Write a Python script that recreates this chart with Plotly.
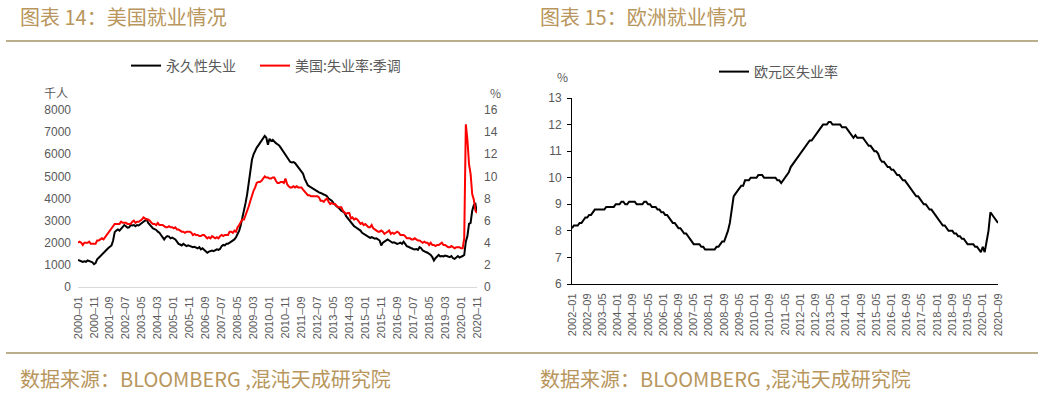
import plotly.graph_objects as go

W, H = 1044, 394


def months(y0, m0, n):
    out = []
    y, m = y0, m0
    for _ in range(n):
        out.append(f"{y}-{m:02d}")
        m += 1
        if m > 12:
            m = 1
            y += 1
    return out


# ---------------- data ----------------
us_months = months(2000, 1, 251)          # 2000-01 .. 2020-11
eu_months = months(2002, 1, 225)          # 2002-01 .. 2020-09

# 永久性失业 (千人)
perm_unemp = [
    1220, 1180, 1150, 1130, 1160, 1140, 1200, 1190, 1150, 1120, 1030, 1080,   # 2000
    1250, 1320, 1400, 1480, 1560, 1620, 1700, 1760, 1820, 1880, 2100, 2480,   # 2001
    2550, 2600, 2550, 2650, 2700, 2800, 2750, 2680, 2700, 2800, 2780, 2800,   # 2002
    2750, 2800, 2780, 2850, 2900, 2950, 3000, 3060, 2900, 2800, 2700, 2650,   # 2003
    2620, 2580, 2500, 2450, 2350, 2250, 2150, 2250, 2300, 2280, 2200, 2230,   # 2004
    2200, 2150, 2050, 1950, 1920, 1880, 1950, 1900, 1850, 1880, 1850, 1820,   # 2005
    1800, 1820, 1780, 1750, 1800, 1700, 1750, 1680, 1620, 1550, 1600, 1630,   # 2006
    1650, 1620, 1650, 1700, 1680, 1720, 1850, 1900, 1880, 1950, 1950, 2000,   # 2007
    2050, 2100, 2150, 2250, 2400, 2550, 2800, 3100, 3400, 3800, 4200, 4700,   # 2008
    5200, 5750, 6000, 6200, 6300, 6400, 6500, 6600, 6700, 6830, 6750, 6430,   # 2009
    6700, 6600, 6650, 6550, 6500, 6450, 6400, 6300, 6200, 6100, 6000, 5900,   # 2010
    5750, 5650, 5630, 5650, 5600, 5500, 5400, 5300, 5200, 5120, 4900, 4700,   # 2011
    4600, 4550, 4500, 4450, 4400, 4350, 4300, 4280, 4250, 4200, 4180, 4150,   # 2012
    4100, 4000, 3950, 3900, 3800, 3700, 3650, 3600, 3500, 3450, 3400, 3350,   # 2013
    3200, 3100, 3000, 2900, 2800, 2750, 2700, 2650, 2600, 2550, 2450, 2400,   # 2014
    2350, 2300, 2250, 2220, 2250, 2200, 2180, 2200, 2150, 2100, 1880, 2000,   # 2015
    2050, 2100, 2150, 2100, 2050, 2000, 2020, 1980, 1950, 1970, 2000, 1950,   # 2016
    2050, 1950, 1850, 1820, 1800, 1750, 1720, 1700, 1720, 1680, 1800, 1750,   # 2017
    1650, 1600, 1580, 1550, 1500, 1450, 1350, 1200, 1300, 1400, 1450, 1380,   # 2018
    1400, 1380, 1420, 1400, 1380, 1350, 1400, 1300, 1270, 1350, 1400, 1330,   # 2019
    1350, 1400, 1450, 2050, 2300, 2850, 2900, 3450, 3700, 3750, 3350,         # 2020
]

# 美国:失业率:季调 (%)
us_rate = [
    4.0, 4.1, 4.0, 3.8, 4.0, 4.0, 4.0, 4.1, 3.9, 3.9, 3.9, 3.9,   # 2000
    4.2, 4.2, 4.3, 4.4, 4.3, 4.5, 4.6, 4.9, 5.0, 5.3, 5.5, 5.7,   # 2001
    5.7, 5.7, 5.7, 5.9, 5.8, 5.8, 5.8, 5.7, 5.7, 5.7, 5.9, 6.0,   # 2002
    5.8, 5.9, 5.9, 6.0, 6.1, 6.3, 6.2, 6.1, 6.1, 6.0, 5.8, 5.7,   # 2003
    5.7, 5.6, 5.8, 5.6, 5.6, 5.6, 5.5, 5.4, 5.4, 5.5, 5.4, 5.4,   # 2004
    5.3, 5.4, 5.2, 5.2, 5.1, 5.0, 5.0, 4.9, 5.0, 5.0, 5.0, 4.9,   # 2005
    4.7, 4.8, 4.7, 4.7, 4.6, 4.6, 4.7, 4.7, 4.5, 4.4, 4.5, 4.4,   # 2006
    4.6, 4.5, 4.4, 4.5, 4.4, 4.6, 4.7, 4.6, 4.7, 4.7, 4.7, 5.0,   # 2007
    5.0, 4.9, 5.1, 5.0, 5.4, 5.6, 5.8, 6.1, 6.1, 6.5, 6.8, 7.3,   # 2008
    7.8, 8.3, 8.7, 9.0, 9.4, 9.5, 9.5, 9.6, 9.8, 10.0, 9.9, 9.9,  # 2009
    9.8, 9.8, 9.9, 9.9, 9.6, 9.4, 9.4, 9.5, 9.5, 9.4, 9.8, 9.3,   # 2010
    9.1, 9.0, 9.0, 9.1, 9.0, 9.1, 9.0, 9.0, 9.0, 8.8, 8.6, 8.5,   # 2011
    8.3, 8.3, 8.2, 8.2, 8.2, 8.2, 8.2, 8.1, 7.8, 7.8, 7.7, 7.9,   # 2012
    8.0, 7.7, 7.5, 7.6, 7.5, 7.5, 7.3, 7.2, 7.2, 7.2, 6.9, 6.7,   # 2013
    6.6, 6.7, 6.7, 6.2, 6.3, 6.1, 6.2, 6.1, 5.9, 5.7, 5.8, 5.6,   # 2014
    5.7, 5.5, 5.4, 5.4, 5.6, 5.3, 5.2, 5.1, 5.0, 5.0, 5.1, 5.0,   # 2015
    4.8, 4.9, 5.0, 5.1, 4.8, 4.9, 4.8, 4.9, 5.0, 4.9, 4.7, 4.7,   # 2016
    4.7, 4.6, 4.4, 4.4, 4.4, 4.3, 4.3, 4.4, 4.3, 4.2, 4.2, 4.1,   # 2017
    4.0, 4.1, 4.0, 4.0, 3.8, 4.0, 3.8, 3.8, 3.7, 3.8, 3.8, 3.9,   # 2018
    4.0, 3.8, 3.8, 3.7, 3.6, 3.6, 3.7, 3.6, 3.5, 3.6, 3.6, 3.6,   # 2019
    3.5, 3.5, 4.4, 14.7, 13.3, 11.1, 10.2, 8.4, 7.9, 6.9, 6.7,    # 2020
]

# 欧元区失业率 (%)
eu_rate = [
    8.1, 8.2, 8.2, 8.2, 8.3, 8.3, 8.4, 8.5, 8.5, 8.6, 8.6, 8.7,          # 2002
    8.8, 8.8, 8.8, 8.8, 8.8, 8.8, 8.9, 8.9, 8.9, 8.9, 8.9, 9.0,          # 2003
    9.0, 9.0, 9.1, 9.1, 9.0, 9.0, 9.1, 9.1, 9.1, 9.1, 9.0, 9.0,          # 2004
    9.0, 9.0, 9.1, 9.1, 9.0, 9.0, 8.9, 8.9, 8.9, 8.8, 8.8, 8.7,          # 2005
    8.7, 8.6, 8.6, 8.5, 8.4, 8.3, 8.3, 8.2, 8.1, 8.1, 8.0, 7.9,          # 2006
    7.9, 7.8, 7.7, 7.6, 7.5, 7.5, 7.5, 7.5, 7.4, 7.4, 7.3, 7.3,          # 2007
    7.3, 7.3, 7.3, 7.3, 7.4, 7.4, 7.5, 7.6, 7.6, 7.8, 8.0, 8.3,          # 2008
    8.8, 9.3, 9.4, 9.5, 9.6, 9.7, 9.7, 9.9, 9.9, 9.9, 10.0, 10.0,        # 2009
    10.0, 10.0, 10.1, 10.1, 10.1, 10.0, 10.0, 10.0, 10.0, 10.0, 10.0, 10.0,  # 2010
    9.9, 9.9, 9.8, 9.9, 10.0, 10.1, 10.2, 10.4, 10.5, 10.6, 10.7, 10.8,  # 2011
    10.9, 11.0, 11.1, 11.2, 11.3, 11.4, 11.4, 11.5, 11.6, 11.7, 11.8, 11.9,  # 2012
    12.0, 12.0, 12.0, 12.1, 12.1, 12.0, 12.0, 12.0, 12.0, 12.0, 11.9, 11.9,  # 2013
    11.9, 11.8, 11.7, 11.6, 11.5, 11.6, 11.5, 11.5, 11.5, 11.5, 11.4, 11.3,  # 2014
    11.2, 11.2, 11.1, 11.0, 11.0, 10.9, 10.7, 10.6, 10.6, 10.5, 10.4, 10.4,  # 2015
    10.3, 10.3, 10.2, 10.1, 10.1, 10.0, 9.9, 9.9, 9.8, 9.7, 9.6, 9.5,    # 2016
    9.4, 9.3, 9.3, 9.2, 9.1, 9.0, 9.0, 8.9, 8.8, 8.8, 8.7, 8.6,          # 2017
    8.5, 8.4, 8.3, 8.2, 8.2, 8.1, 8.0, 8.0, 8.0, 7.9, 7.9, 7.8,          # 2018
    7.8, 7.7, 7.7, 7.6, 7.5, 7.5, 7.5, 7.5, 7.4, 7.4, 7.3, 7.2,          # 2019
    7.4, 7.2, 7.6, 8.0, 8.7, 8.6, 8.5, 8.4, 8.3,                          # 2020
]

us_ticks = us_months[::10]
eu_ticks = eu_months[::8]

# ---------------- style ----------------
GOLD = "#B8965C"
RULE = "#A4936A"
GRAY = "#595959"
CJK = "Noto Sans CJK SC"
LAT = "Liberation Sans, Arial, sans-serif"


def px(x):
    return x / W


def py(y):
    return 1 - y / H


fig = go.Figure()
fig.add_trace(go.Scatter(x=us_months, y=perm_unemp, name="永久性失业\u3000", mode="lines",
                         line=dict(color="#000000", width=2), xaxis="x", yaxis="y",
                         legend="legend"))
fig.add_trace(go.Scatter(x=us_months, y=us_rate, name="美国:失业率:季调", mode="lines",
                         line=dict(color="#FF0000", width=2), xaxis="x", yaxis="y2",
                         legend="legend"))
fig.add_trace(go.Scatter(x=eu_months, y=eu_rate, name="欧元区失业率", mode="lines",
                         line=dict(color="#000000", width=2), xaxis="x3", yaxis="y3",
                         legend="legend2"))

tickfont = dict(family=LAT, size=12, color=GRAY)
xtickfont = dict(family=LAT, size=11, color=GRAY)

fig.update_layout(
    width=W, height=H,
    margin=dict(l=0, r=0, t=0, b=0),
    paper_bgcolor="white", plot_bgcolor="white",
    font=dict(family=CJK, color=GRAY),
    showlegend=True,
    xaxis=dict(domain=[px(78), px(477)], anchor="y", type="category",
               categoryorder="array", categoryarray=us_months,
               range=[0, 250], tickmode="array", tickvals=us_ticks,
               ticktext=[t.replace("-", "–") for t in us_ticks],
               tickangle=-90, tickfont=xtickfont, showgrid=False, zeroline=False,
               showline=True, linecolor="#D9D9D9", linewidth=1, ticks="",
               ticklabelstandoff=4, automargin=False),
    yaxis=dict(domain=[py(287), py(110)], anchor="x", range=[0, 8000], dtick=1000,
               showgrid=False, zeroline=False, showline=False, ticks="",
               tickfont=tickfont, ticklabelstandoff=6, automargin=False),
    yaxis2=dict(overlaying="y", side="right", anchor="x", range=[0, 16], dtick=2,
                showgrid=False, zeroline=False, showline=False, ticks="",
                tickfont=tickfont, ticklabelstandoff=6, automargin=False),
    xaxis3=dict(domain=[px(572), px(998)], anchor="y3", type="category",
                categoryorder="array", categoryarray=eu_months,
                range=[0, 224], tickmode="array", tickvals=eu_ticks,
                ticktext=[t.replace("-", "–") for t in eu_ticks],
                tickangle=-90, tickfont=xtickfont, showgrid=False, zeroline=False,
                showline=True, linecolor="#000000", linewidth=1, ticks="",
                ticklabelstandoff=4, automargin=False),
    yaxis3=dict(domain=[py(284), py(98)], anchor="x3", range=[6, 13], dtick=1,
                showgrid=False, zeroline=False, showline=True, linecolor="#000000",
                linewidth=1, ticks="outside", ticklen=4, tickcolor="#000000",
                tickfont=tickfont, ticklabelstandoff=3, automargin=False),
    legend=dict(orientation="h", x=px(126), y=py(66), xanchor="left", yanchor="middle",
                font=dict(family=CJK, size=14, color=GRAY), bgcolor="rgba(0,0,0,0)",
                itemwidth=30, tracegroupgap=0),
    legend2=dict(orientation="h", x=px(714), y=py(72), xanchor="left", yanchor="middle",
                 font=dict(family=CJK, size=14, color=GRAY), bgcolor="rgba(0,0,0,0)",
                 itemwidth=30),
)

annotations = [
    dict(text="图表 14：美国就业情况", x=px(18), y=py(17)),
    dict(text="图表 15：欧洲就业情况", x=px(538), y=py(17)),
    dict(text="数据来源：BLOOMBERG ,混沌天成研究院", x=px(18), y=py(378)),
    dict(text="数据来源：BLOOMBERG ,混沌天成研究院", x=px(538), y=py(378)),
]
for a in annotations:
    fig.add_annotation(xref="paper", yref="paper", xanchor="left", yanchor="middle",
                       showarrow=False, font=dict(family=CJK, size=20, color=GOLD), **a)

for txt, x, y in [("千人", 42, 92), ("%", 488, 92), ("%", 555, 77)]:
    fig.add_annotation(text=txt, xref="paper", yref="paper", x=px(x), y=py(y),
                       xanchor="left", yanchor="middle", showarrow=False,
                       font=dict(family=CJK, size=12, color=GRAY))

for yline in (41, 353):
    fig.add_shape(type="line", xref="paper", yref="paper", x0=px(6), x1=px(1038),
                  y0=py(yline), y1=py(yline), line=dict(color=RULE, width=1.5))

fig.write_html("out.html", config={"displayModeBar": False},
               post_script="document.body.style.margin='0';document.body.style.padding='0';")
